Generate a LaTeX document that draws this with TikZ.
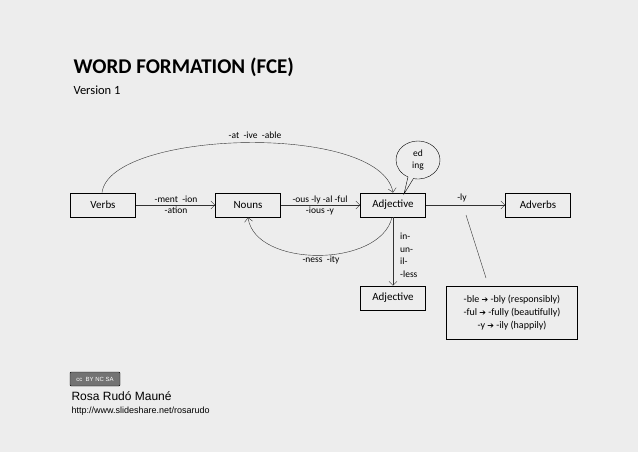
\documentclass[tikz,border=0pt]{standalone}
\usepackage{fontspec}
\setmainfont{Carlito}
\newfontfamily\arialf{Liberation Sans}
\newfontfamily\djv{DejaVu Sans}
\usetikzlibrary{arrows.meta,shapes.callouts}
\newcommand{\barr}{{\djv\bfseries\footnotesize ➔}}
\begin{document}
\begin{tikzpicture}[x=1pt,y=-1pt,
  box/.style={draw,thick,minimum width=65pt,minimum height=24pt,inner sep=0pt,font=\fontsize{11}{13}\selectfont},
  lab/.style={font=\fontsize{9.5}{11}\selectfont,inner sep=1pt,align=center},
  arr/.style={-{Straight Barb[length=4pt]},draw=black!80}]
\fill[black!7] (0,0) rectangle (638,452);
\useasboundingbox (0,0) rectangle (638,452);
\node[anchor=west,font=\bfseries\fontsize{21}{23}\selectfont] (title) at (70,67) {WORD FORMATION (FCE)};
\node[anchor=west,font=\fontsize{12.5}{14}\selectfont] (ver) at (70,90) {Version 1};
\node[box] (verbs) at (103,205) {Verbs};
\node[box] (nouns) at (248,205) {Nouns};
\node[box] (adj) at (393,205) {Adjective};
\node[box] (adv) at (538,205) {Adverbs};
\node[box] (adj2) at (393,298) {Adjective};
\node[draw,thick,minimum width=131pt,minimum height=53pt,inner sep=2pt,align=center,font=\fontsize{10}{13}\selectfont] (sfx) at (512,313)
 {-ble \barr{} -bly (responsibly)\\-ful \barr{} -fully (beautifully)\\-y \barr{} -ily (happily)};
\node[ellipse callout,draw,fill=black!7,minimum width=44pt,minimum height=38pt,inner sep=0pt,align=center,font=\fontsize{9.5}{12}\selectfont,callout absolute pointer={(404,194)}] (bub) at (418,160) {ed\\ing};
\draw[arr] (verbs.east) -- (nouns.west);
\draw[arr] (nouns.east) -- (adj.west);
\draw[arr] (adj.east) -- (adv.west);
\draw[arr] (adj.south) -- (adj2.north);
\draw[arr] ([xshift=-1pt]verbs.north) .. controls (110,130) and (380,122) .. (adj.north);
\draw[arr] ([xshift=-1pt]adj.south) .. controls (380,268) and (255,268) .. (nouns.south);
\coordinate (lt) at (466,215);
\coordinate (lb) at (486,278);
\draw[draw=black!80] (lt) -- (lb);
\node[lab] (l1) at (255,135) {-at\ \ -ive\ \ -able};
\node[lab] (l2) at (176,205) {-ment\ \ -ion\\-ation};
\node[lab] (l3) at (320,205) {-ous\ -ly -al\ -ful\\-ious\ -y};
\node[lab] (l4) at (462,198) {-ly};
\node[lab] (l5) at (321,260) {-ness\ \ -ity};
\node[lab,align=left,anchor=north west,font=\fontsize{9.5}{12.5}\selectfont] (l6) at (399,232) {in-\\un-\\il-\\-less};
\node[draw,rounded corners=1pt,fill=black!55,text=white,inner sep=1pt,minimum width=50pt,minimum height=14pt,font=\arialf\fontsize{6}{7}\selectfont] (cc) at (95,379) {cc\ \ BY\ NC\ SA};
\node[anchor=west,font=\arialf\fontsize{12}{14}\selectfont] (name) at (68,396) {Rosa Rudó Mauné};
\node[anchor=west,font=\arialf\fontsize{9}{11}\selectfont] (url) at (68,411) {http://www.slideshare.net/rosarudo};
\end{tikzpicture}
\end{document}
